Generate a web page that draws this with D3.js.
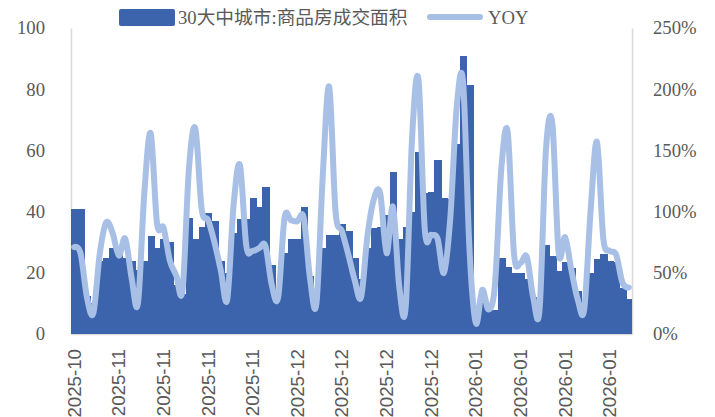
<!DOCTYPE html>
<html>
<head>
<meta charset="utf-8">
<script src="https://cdn.jsdelivr.net/npm/d3@7"></script>
<style>
  body { margin: 0; background: #fff; }
  svg { display: block; }
</style>
</head>
<body>
<div id="chart"></div>
<script>
// daily categories: 2025-10-31 .. 2026-01-26
var dates = d3.timeDay.range(new Date(2025, 9, 31), new Date(2026, 0, 27));

// 30大中城市 商品房成交面积 (万平方米)
var area = [41, 41, 12.5, 10, 24, 25, 28, 28, 25, 24, 21, 24, 32, 28, 31, 30, 16, 13, 38, 31,
  35, 39.5, 37, 24, 20, 33, 37.5, 37.5, 44.5, 41.5, 48, 22.5, 14, 26.5, 31, 31, 41.5, 19, 14, 28,
  32.5, 32.5, 36, 33.5, 25, 18, 28, 34.5, 35, 39, 53, 31, 35, 40, 59.5, 46, 46.5, 57, 44.5, 44,
  62, 91, 81.5, 6, 10, 8, 8, 25, 22, 20, 20, 18, 12, 10, 29, 25.5, 20.5, 23.5, 21.5, 14,
  10, 20, 24.5, 26, 24, 23.5, 15, 11.5];

// YOY, %
var yoy = [71, 66, 30, 17, 65, 91, 83, 64, 78, 46, 25, 115, 164, 90, 87, 60, 48, 36, 135, 168,
  102, 93, 75, 52, 28, 105, 138, 72, 68, 70, 72, 40, 30, 95, 93, 92, 95, 45, 25, 130,
  202, 100, 84, 65, 44, 30, 80, 110, 115, 66, 104, 38, 22, 160, 208, 85, 81, 78, 50, 95,
  185, 206, 70, 9, 36, 20, 40, 135, 165, 65, 58, 63, 30, 20, 150, 172, 66, 79, 52, 28,
  20, 100, 157, 78, 68, 65, 42, 38];

var leftTicks = [0, 20, 40, 60, 80, 100];
var rightTicks = [0, 50, 100, 150, 200, 250];
var labelEvery = 7;

var width = 715, height = 417;
var margin = {top: 28, right: 83, bottom: 83, left: 71};
var barColor = "#3b64ad", lineColor = "#a8bfe6", textColor = "#595959";

var svg = d3.select("#chart").append("svg")
  .attr("width", width)
  .attr("height", height);

var x = d3.scaleBand()
  .domain(dates)
  .range([margin.left, width - margin.right])
  .padding(0);

var yL = d3.scaleLinear().domain([0, 100]).range([height - margin.bottom, margin.top]);
var yR = d3.scaleLinear().domain([0, 250]).range([height - margin.bottom, margin.top]);

var fmt = d3.timeFormat("%Y-%m");

// axes
var gx = svg.append("g")
  .attr("transform", "translate(0," + (height - margin.bottom) + ")")
  .call(d3.axisBottom(x)
    .tickValues(dates.filter(function(d, i) { return i % labelEvery === 0; }))
    .tickSize(0)
    .tickFormat(fmt));
gx.selectAll("text")
  .attr("transform", "rotate(-90)")
  .attr("x", -15)
  .attr("y", 0)
  .attr("dy", "0.35em")
  .style("text-anchor", "end")
  .style("font-family", "'Liberation Sans', Arial, sans-serif")
  .style("font-size", "18.7px")
  .attr("fill", textColor);

var gl = svg.append("g")
  .attr("transform", "translate(" + margin.left + ",0)")
  .call(d3.axisLeft(yL).tickValues(leftTicks).tickSize(0).tickPadding(26));
gl.selectAll("text")
  .style("font-family", "'Liberation Serif', serif")
  .style("font-size", "18.7px")
  .attr("fill", textColor);

var gr = svg.append("g")
  .attr("transform", "translate(" + (width - margin.right) + ",0)")
  .call(d3.axisRight(yR).tickValues(rightTicks).tickSize(0).tickPadding(21)
    .tickFormat(function(d) { return d + "%"; }));
gr.selectAll("text")
  .style("font-family", "'Liberation Serif', serif")
  .style("font-size", "18.7px")
  .attr("fill", textColor);

svg.selectAll(".domain").attr("stroke", "#d9d9d9").attr("stroke-width", 1.5);

// bars (no gap between them)
svg.append("g")
  .attr("shape-rendering", "crispEdges")
  .selectAll("rect")
  .data(area)
  .enter().append("rect")
  .attr("x", function(d, i) { return x(dates[i]); })
  .attr("y", function(d) { return yL(d); })
  .attr("width", function(d, i) { return i === area.length - 1 ? x.bandwidth() : x.bandwidth() + 1; })
  .attr("height", function(d) { return yL(0) - yL(d); })
  .attr("fill", barColor);

// yoy line
var line = d3.line()
  .x(function(d, i) { return x(dates[i]) + x.bandwidth() / 2; })
  .y(function(d) { return yR(d); })
  .curve(d3.curveCardinal.tension(0));

svg.append("path")
  .datum(yoy)
  .attr("d", line)
  .attr("fill", "none")
  .attr("stroke", lineColor)
  .attr("stroke-width", 6)
  .attr("stroke-linejoin", "round")
  .attr("stroke-linecap", "round");

// legend
var legend = svg.append("g");
legend.append("rect")
  .attr("x", 119).attr("y", 9)
  .attr("width", 56).attr("height", 17)
  .attr("rx", 2)
  .attr("fill", barColor);
legend.append("text")
  .attr("x", 178).attr("y", 24)
  .style("font-family", "'Liberation Serif', 'Noto Sans CJK SC', serif")
  .style("font-size", "18.7px")
  .attr("fill", textColor)
  .text("30大中城市:商品房成交面积");
legend.append("line")
  .attr("x1", 430).attr("x2", 480)
  .attr("y1", 17).attr("y2", 17)
  .attr("stroke", lineColor)
  .attr("stroke-width", 6)
  .attr("stroke-linecap", "round");
legend.append("text")
  .attr("x", 488).attr("y", 24)
  .style("font-family", "'Liberation Serif', serif")
  .style("font-size", "18.7px")
  .attr("fill", textColor)
  .text("YOY");
</script>
</body>
</html>
